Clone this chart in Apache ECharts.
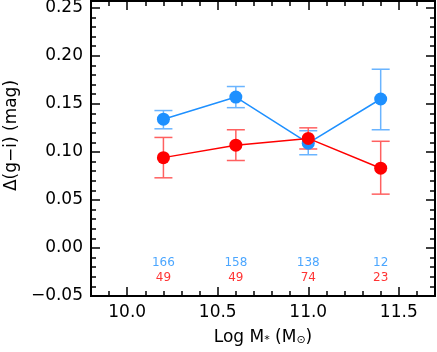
<!DOCTYPE html>
<html>
<head>
<meta charset="utf-8">
<script src="https://cdn.jsdelivr.net/npm/echarts@6/dist/echarts.min.js"></script>
<style>
  html, body { margin: 0; padding: 0; background: #fff; }
  #chart { width: 437px; height: 352px; }
</style>
</head>
<body>
<div id="chart"></div>
<script>
// stellar mass bins
var massBins = [10.2, 10.6, 11.0, 11.4];
// blue sample
var blueMean = [0.134, 0.157, 0.109, 0.155];
var blueLow  = [0.124, 0.146, 0.097, 0.123];
var blueHigh = [0.143, 0.168, 0.122, 0.186];
var blueCounts = [166, 158, 138, 12];
// red sample
var redMean = [0.094, 0.107, 0.114, 0.083];
var redLow  = [0.073, 0.091, 0.103, 0.056];
var redHigh = [0.115, 0.123, 0.125, 0.111];
var redCounts = [49, 49, 74, 23];
// ticks
var xMajorTicks = [10.0, 10.5, 11.0, 11.5];
var xMinorTicks = [9.8, 9.9, 10.1, 10.2, 10.3, 10.4, 10.6, 10.7, 10.8, 10.9, 11.1, 11.2, 11.3, 11.4, 11.6, 11.7];
var yMajorTicks = [-0.05, 0.00, 0.05, 0.10, 0.15, 0.20, 0.25];
var yMinorTicks = [-0.04, -0.03, -0.02, -0.01, 0.01, 0.02, 0.03, 0.04, 0.06, 0.07, 0.08, 0.09,
                   0.11, 0.12, 0.13, 0.14, 0.16, 0.17, 0.18, 0.19, 0.21, 0.22, 0.23, 0.24];

var BLUE = '#1e90ff', RED = '#ff0000';
var FONT = 'DejaVu Sans';
var blueCountLevel = -0.016, redCountLevel = -0.031;

function errorBars(low, high, color) {
    return {
        type: 'custom',
        xAxisIndex: 0, yAxisIndex: 0,
        data: massBins.map(function (x, i) { return [x, low[i], high[i]]; }),
        encode: { x: 0, y: [1, 2] },
        renderItem: function (params, api) {
            var lo = api.coord([api.value(0), api.value(1)]);
            var hi = api.coord([api.value(0), api.value(2)]);
            var w = 9, st = { stroke: color, lineWidth: 1.5 };
            return { type: 'group', children: [
                { type: 'line', shape: { x1: lo[0], y1: lo[1], x2: hi[0], y2: hi[1] }, style: st },
                { type: 'line', shape: { x1: lo[0] - w, y1: lo[1], x2: lo[0] + w, y2: lo[1] }, style: st },
                { type: 'line', shape: { x1: hi[0] - w, y1: hi[1], x2: hi[0] + w, y2: hi[1] }, style: st }
            ]};
        },
        z: 2
    };
}

function counts(level, values, color) {
    return {
        type: 'scatter',
        xAxisIndex: 0, yAxisIndex: 0,
        symbolSize: 1,
        itemStyle: { color: 'transparent' },
        data: massBins.map(function (x, i) { return [x, level, values[i]]; }),
        label: {
            show: true, position: 'inside', color: color,
            fontFamily: FONT, fontSize: 12,
            formatter: function (p) { return String(p.value[2]); }
        },
        silent: true
    };
}

function xAx(pos, ticks, len, labels) {
    return {
        type: 'value', position: pos, min: 9.8, max: 11.7,
        axisLine: { show: true, onZero: false, lineStyle: { color: '#000', width: 2 } },
        axisTick: { show: true, inside: true, length: len, customValues: ticks, lineStyle: { color: '#000', width: 1.5 } },
        axisLabel: labels ? {
            show: true, customValues: xMajorTicks, margin: 8, color: '#000', fontFamily: FONT, fontSize: 17,
            formatter: function (v) { return v.toFixed(1); }
        } : { show: false },
        splitLine: { show: false }
    };
}

function yAx(pos, ticks, len, labels) {
    return {
        type: 'value', position: pos, min: -0.05, max: 0.257,
        axisLine: { show: true, onZero: false, lineStyle: { color: '#000', width: 2 } },
        axisTick: { show: true, inside: true, length: len, customValues: ticks, lineStyle: { color: '#000', width: 1.5 } },
        axisLabel: labels ? {
            show: true, customValues: yMajorTicks, margin: 8, color: '#000', fontFamily: FONT, fontSize: 17,
            formatter: function (v) { return (v < 0 ? '\u2212' : '') + Math.abs(v).toFixed(2); }
        } : { show: false },
        splitLine: { show: false }
    };
}

var xMain = xAx('bottom', xMajorTicks, 9, true);
xMain.name = '{a|Log M}{s|*}{a| (M}{s|\u2299}{a|)}';
xMain.nameLocation = 'middle';
xMain.nameGap = 33;
xMain.nameTextStyle = {
    rich: {
        a: { fontFamily: FONT, fontSize: 17, color: '#000' },
        s: { fontFamily: FONT, fontSize: 11, color: '#000', verticalAlign: 'bottom', padding: [6, 0, 0, 0] }
    }
};

var yMain = yAx('left', yMajorTicks, 9, true);
yMain.name = '\u0394(g\u2212i) (mag)';
yMain.nameLocation = 'middle';
yMain.nameRotate = 90;
yMain.nameGap = 70;
yMain.nameTextStyle = { fontFamily: FONT, fontSize: 17, color: '#000', padding: [0, 0, 0, 26] };

var myChart = echarts.init(document.getElementById('chart'));
var option = {
    animation: false,
    backgroundColor: '#fff',
    grid: { left: 91, right: 2, top: 1, bottom: 56, containLabel: false, outerBoundsMode: 'none' },
    xAxis: [
        xMain,
        xAx('bottom', xMinorTicks, 5, false),
        xAx('top', xMajorTicks, 9, false),
        xAx('top', xMinorTicks, 5, false)
    ],
    yAxis: [
        yMain,
        yAx('left', yMinorTicks, 5, false),
        yAx('right', yMajorTicks, 9, false),
        yAx('right', yMinorTicks, 5, false)
    ],
    series: [
        errorBars(blueLow, blueHigh, '#6ab4ff'),
        {
            type: 'line', xAxisIndex: 0, yAxisIndex: 0,
            data: massBins.map(function (x, i) { return [x, blueMean[i]]; }),
            symbol: 'circle', symbolSize: 13,
            lineStyle: { color: BLUE, width: 1.5 },
            itemStyle: { color: BLUE },
            z: 3
        },
        errorBars(redLow, redHigh, '#ff6060'),
        {
            type: 'line', xAxisIndex: 0, yAxisIndex: 0,
            data: massBins.map(function (x, i) { return [x, redMean[i]]; }),
            symbol: 'circle', symbolSize: 13,
            lineStyle: { color: RED, width: 1.5 },
            itemStyle: { color: RED },
            z: 4
        },
        counts(blueCountLevel, blueCounts, BLUE),
        counts(redCountLevel, redCounts, RED)
    ]
};
myChart.setOption(option);
</script>
</body>
</html>
